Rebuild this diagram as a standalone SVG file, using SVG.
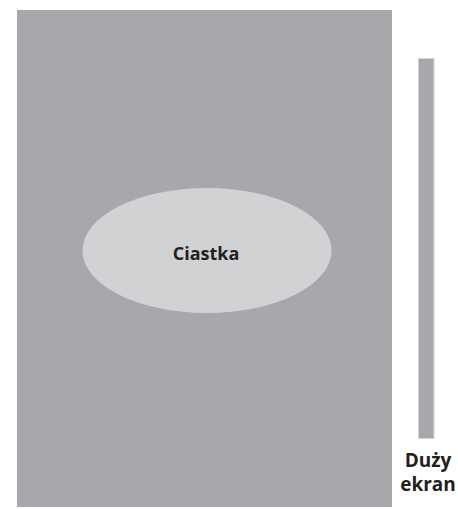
<svg xmlns="http://www.w3.org/2000/svg" width="458" height="509" viewBox="0 0 458 509">
<style>
.lbl{font-family:"Open Sans","Noto Sans","DejaVu Sans",sans-serif;font-weight:bold;fill:#231f20;text-anchor:middle}
</style>
<rect width="458" height="509" fill="#ffffff"/>
<g id="page">
<rect x="17" y="10" width="375" height="497" fill="#a7a8ab"/>
</g>
<g id="ciastka">
<ellipse cx="207" cy="250.5" rx="124.5" ry="62.5" fill="#d1d2d4"/>
<text class="lbl" x="206" y="260" font-size="18">Ciastka</text>
</g>
<g id="duzy-ekran">
<rect x="418.5" y="58.5" width="15.5" height="380" fill="#a7a8ab" stroke="#d4d5d7" stroke-width="1"/>
<text class="lbl" x="428" y="467" font-size="19">Duży</text>
<text class="lbl" x="428" y="491" font-size="19">ekran</text>
</g>
<g id="connectors"/>
</svg>
